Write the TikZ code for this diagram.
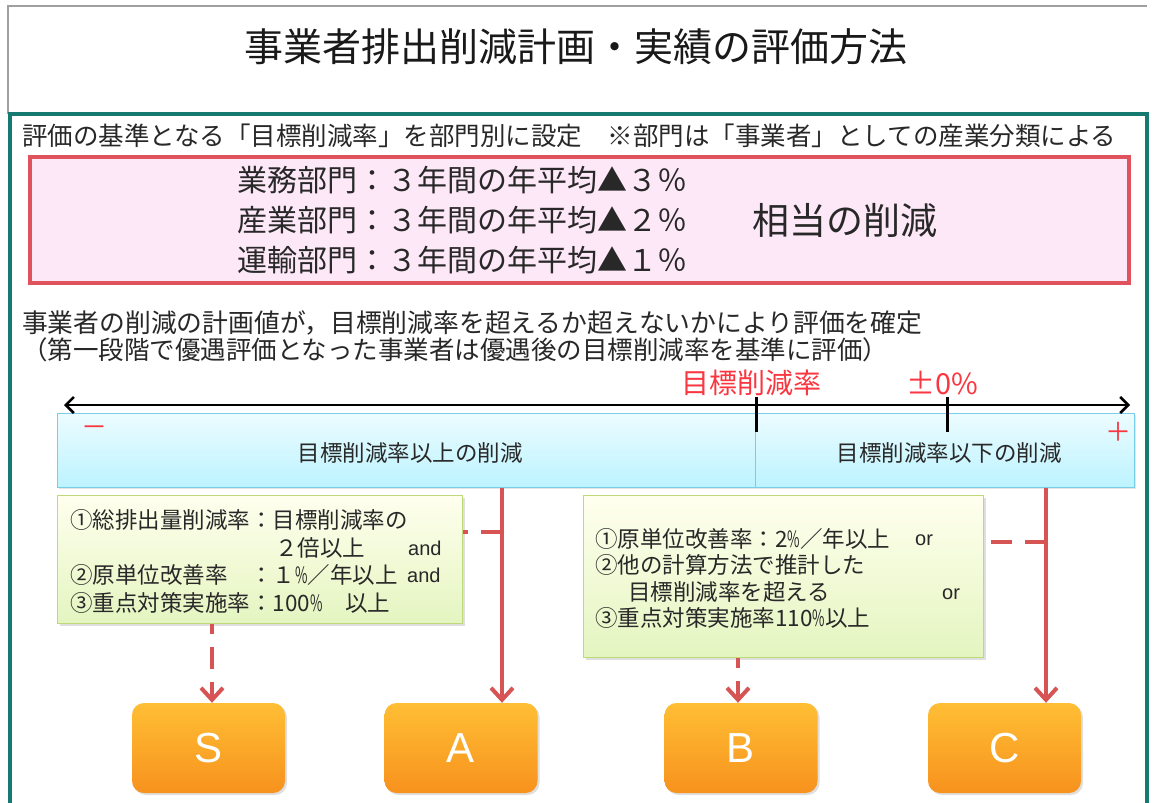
\documentclass[tikz,border=0pt]{standalone}
\usepackage{fontspec}
\setmainfont{Noto Sans CJK JP}
\newfontfamily\latf{Liberation Sans}
\usetikzlibrary{arrows.meta,shadows}
\definecolor{teal1}{RGB}{22,122,112}
\definecolor{pinkfill}{RGB}{253,232,248}
\definecolor{pinkline}{RGB}{224,82,92}
\definecolor{redarr}{RGB}{214,84,84}
\definecolor{redtxt}{RGB}{250,55,65}
\definecolor{barline}{RGB}{120,205,232}
\definecolor{bartop}{RGB}{236,252,255}
\definecolor{barbot}{RGB}{188,243,255}
\definecolor{grline}{RGB}{190,218,120}
\definecolor{grtop}{RGB}{255,255,238}
\definecolor{grbot}{RGB}{228,245,192}
\definecolor{ortop}{RGB}{255,190,52}
\definecolor{orbot}{RGB}{247,146,30}
\definecolor{ink}{RGB}{40,40,40}
\newcommand\pct{\scalebox{0.6}[1]{\%}}
\tikzset{
  fs/.style={font=\fontsize{#1}{#1}\selectfont},
  txt/.style={inner sep=0pt, anchor=west, text=ink},
  barbox/.style={draw=barline, line width=1.2pt, top color=bartop, bottom color=barbot,
    inner sep=0pt, anchor=north west, minimum height=74pt,
    drop shadow={shadow xshift=1.5pt, shadow yshift=-1.5pt, opacity=0.2}},
  gbox/.style={draw=grline, line width=1.2pt, top color=grtop, bottom color=grbot,
    inner sep=0pt, anchor=north west,
    drop shadow={shadow xshift=2pt, shadow yshift=-2pt, opacity=0.25}},
  obox/.style={rounded corners=12pt, top color=ortop, bottom color=orbot, draw=none,
    minimum width=153pt, minimum height=90pt, inner sep=0pt, text=white,
    font=\latf\fontsize{42}{42}\selectfont,
    drop shadow={shadow xshift=2pt, shadow yshift=-2pt, opacity=0.25}},
  redsolid/.style={draw=redarr, line width=4pt, -{Straight Barb[length=12pt,width=22pt]}},
  reddash/.style={draw=redarr, line width=4pt, dash pattern=on 21pt off 13pt},
  reddasharr/.style={draw=redarr, line width=4pt, dash pattern=on 22pt off 13pt, dash phase=12pt,
    -{Straight Barb[length=12pt,width=22pt]}},
  word/.style={inner sep=0pt, anchor=west, text=ink, font=\latf\fontsize{20}{20}\selectfont},
}
\begin{document}
\begin{tikzpicture}[x=1pt,y=-1pt]
\useasboundingbox (0,0) rectangle (1152,803);
\fill[white] (0,0) rectangle (1152,803);
% frames
\draw[gray!75, line width=1.2pt] (8,114) -- (8,6) -- (1147,6);
\draw[teal1, line width=4pt] (10,830) -- (10,114) -- (1147,114) -- (1147,830);
% title
\node[fs=39, inner sep=0pt, text=black!90] (title) at (576,47) {事業者排出削減計画・実績の評価方法};
% intro line
\node[txt, fs=25.5] (intro) at (22,136) {評価の基準となる「目標削減率」を部門別に設定\hspace{1em}※部門は「事業者」としての産業分類による};
% pink box
\node[draw=pinkline, fill=pinkfill, line width=4pt, minimum width=1099pt, minimum height=126pt,
  inner sep=0pt, anchor=north west] (pink) at (28,155) {};
\node[txt, fs=30] (p1) at (237,180) {業務部門：３年間の年平均▲３％};
\node[txt, fs=30] (p2) at (237,220) {産業部門：３年間の年平均▲２％};
\node[txt, fs=30] (p3) at (237,260) {運輸部門：３年間の年平均▲１％};
\node[txt, fs=37] (p4) at (752,220) {相当の削減};
% plan lines
\node[txt, fs=25.8] (plan1) at (22,323) {事業者の削減の計画値が，目標削減率を超えるか超えないかにより評価を確定};
\node[txt, fs=25.5] (plan2) at (22,350) {（第一段階で優遇評価となった事業者は優遇後の目標削減率を基準に評価）};
% red labels
\node[fs=28, text=redtxt, inner sep=0pt] (tgt) at (751,383) {目標削減率};
\node[fs=29, text=redtxt, inner sep=0pt] (zero) at (942,383) {±0\%};
% bars
\node[barbox, minimum width=698pt] (barL) at (57,413) {};
\node[barbox, minimum width=379pt] (barR) at (755,413) {};
\node[fs=22.5, inner sep=0pt, text=ink] (barLt) at (410,453) {目標削減率以上の削減};
\node[fs=22.5, inner sep=0pt, text=ink] (barRt) at (949,453) {目標削減率以下の削減};
\node[fs=26, text=redtxt, inner sep=0pt] (minus) at (94,431) {－};
\node[fs=26, text=redtxt, inner sep=0pt] (plus) at (1118,432) {＋};
% axis
\coordinate (axL) at (64,405);
\coordinate (axR) at (1130,405);
\draw[line width=2.6pt, {Straight Barb[length=8pt,width=16pt]}-{Straight Barb[length=8pt,width=16pt]}] (axL) -- (axR);
\coordinate (tk1) at (756,397);
\coordinate (tk2) at (947,397);
\draw[line width=3pt] (tk1) -- ++(0,35);
\draw[line width=3pt] (tk2) -- ++(0,35);
% green boxes
\node[gbox, minimum width=405pt, minimum height=128pt] (gL) at (57,495) {};
\node[gbox, minimum width=400pt, minimum height=162pt] (gR) at (583,495) {};
\node[txt, fs=22.5] (l1) at (70,520) {①総排出量削減率：目標削減率の};
\node[txt, fs=22.5] (l2) at (275,548) {２倍以上};
\node[word] (l2w) at (408,548) {and};
\node[txt, fs=22.5] (l3) at (70,575) {②原単位改善率　：１\pct／年以上};
\node[word] (l3w) at (407,575) {and};
\node[txt, fs=22.5] (l4) at (70,603) {③重点対策実施率：100\pct　以上};
\node[txt, fs=22.5] (r1) at (595,539) {①原単位改善率：2\pct／年以上};
\node[word] (r1w) at (915,540) {or};
\node[txt, fs=22.5] (r2) at (595,565) {②他の計算方法で推計した};
\node[txt, fs=22.5] (r3) at (628,592) {目標削減率を超える};
\node[word] (r3w) at (942,594) {or};
\node[txt, fs=22.5] (r4) at (595,618) {③重点対策実施率110\pct 以上};
% grade boxes
\node[obox] (S) at (208.5,748) {S};
\node[obox] (A) at (461,748) {A};
\node[obox] (B) at (741,748) {B};
\node[obox] (C) at (1004.5,748) {C};
% connectors
\coordinate (xS) at (212,0);
\coordinate (xA) at (502,0);
\coordinate (xB) at (738,0);
\coordinate (xC) at (1046,0);
\coordinate (jA) at (502,532);
\coordinate (jC) at (1046,542);
\draw[redsolid] (barL.south -| xA) -- (A.north -| xA);
\draw[redsolid] (barR.south -| xC) -- (C.north -| xC);
\draw[reddash] (jA) -- (gL.east |- jA);
\draw[reddash] (jC) -- (gR.east |- jC);
\draw[reddasharr] (gL.south -| xS) -- (S.north -| xS);
\draw[reddasharr] (gR.south -| xB) -- (B.north -| xB);
\end{tikzpicture}
\end{document}
